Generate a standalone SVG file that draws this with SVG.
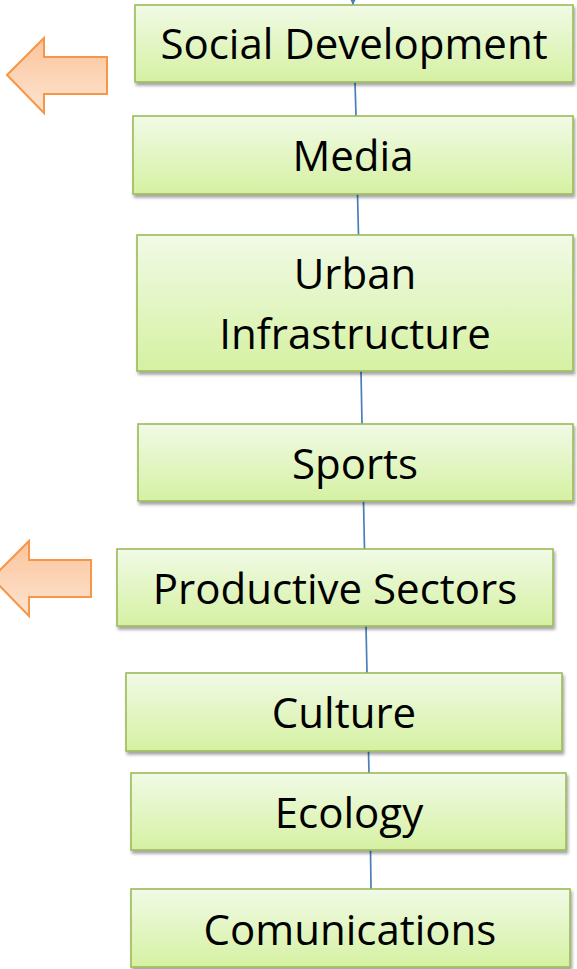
<svg xmlns="http://www.w3.org/2000/svg" width="577" height="969" viewBox="0 0 577 969">
  <style>
    .box { fill: url(#boxGrad); stroke: #9BBB59; stroke-width: 1.6; filter: url(#shadow); }
    .lbl { font-family: "Open Sans", "Liberation Sans", sans-serif; font-size: 42px; fill: #000; text-anchor: middle; }
    .conn { stroke: #4A7EBB; stroke-width: 1.7; fill: none; }
    .bigarrow { fill: url(#arrowGrad); stroke: #F79646; stroke-width: 2; stroke-linejoin: miter; }
  </style>
  <defs>
    <linearGradient id="boxGrad" x1="0" y1="0" x2="0" y2="1">
      <stop offset="0" stop-color="#F1FAE6"/>
      <stop offset="1" stop-color="#D5F1A2"/>
    </linearGradient>
    <linearGradient id="arrowGrad" x1="0" y1="0" x2="0" y2="1">
      <stop offset="0" stop-color="#FBC49A"/>
      <stop offset="1" stop-color="#FDE4D2"/>
    </linearGradient>
    <filter id="shadow" x="-5%" y="-10%" width="115%" height="130%">
      <feDropShadow dx="1.5" dy="3" stdDeviation="1.8" flood-color="#000" flood-opacity="0.35"/>
    </filter>
    <marker id="head" markerWidth="8" markerHeight="8" refX="7" refY="4" orient="auto" markerUnits="userSpaceOnUse">
      <path d="M0,0.5 L7,4 L0,7.5 Z" fill="#4A7EBB"/>
    </marker>
  </defs>

  <g id="connectors">
    <line class="conn" x1="353" y1="-6" x2="353" y2="5" marker-end="url(#head)"/>
    <line class="conn" x1="355" y1="82" x2="356" y2="116"/>
    <line class="conn" x1="357.5" y1="194" x2="358.5" y2="235"/>
    <line class="conn" x1="361" y1="371" x2="362" y2="424"/>
    <line class="conn" x1="363.5" y1="501" x2="364.5" y2="549"/>
    <line class="conn" x1="366" y1="626" x2="367" y2="673"/>
    <line class="conn" x1="368.5" y1="751" x2="369" y2="773"/>
    <line class="conn" x1="370.5" y1="850" x2="371" y2="889"/>
  </g>

  <g id="arrow-social">
    <path class="bigarrow" d="M7,75 L44,38 L44,57 L107,57 L107,94 L44,94 L44,113 Z"/>
  </g>
  <g id="arrow-productive">
    <path class="bigarrow" d="M-8,578 L29,541 L29,560 L91,560 L91,597 L29,597 L29,616 Z"/>
  </g>

  <g id="social-development">
    <rect class="box" x="135" y="5" width="438" height="77"/>
    <text class="lbl" x="354" y="59">Social Development</text>
  </g>
  <g id="media">
    <rect class="box" x="133" y="116" width="440" height="78"/>
    <text class="lbl" x="353" y="171">Media</text>
  </g>
  <g id="urban-infrastructure">
    <rect class="box" x="137" y="235" width="436" height="136"/>
    <text class="lbl" x="355" y="289">Urban</text>
    <text class="lbl" x="355" y="349">Infrastructure</text>
  </g>
  <g id="sports">
    <rect class="box" x="138" y="424" width="435" height="77"/>
    <text class="lbl" x="355" y="479">Sports</text>
  </g>
  <g id="productive-sectors">
    <rect class="box" x="117" y="549" width="436" height="77"/>
    <text class="lbl" x="335" y="604">Productive Sectors</text>
  </g>
  <g id="culture">
    <rect class="box" x="126" y="673" width="436" height="78"/>
    <text class="lbl" x="344" y="728">Culture</text>
  </g>
  <g id="ecology">
    <rect class="box" x="131" y="773" width="435" height="77"/>
    <text class="lbl" x="349" y="828">Ecology</text>
  </g>
  <g id="comunications">
    <rect class="box" x="131" y="889" width="439" height="78"/>
    <text class="lbl" x="350" y="945">Comunications</text>
  </g>
</svg>
